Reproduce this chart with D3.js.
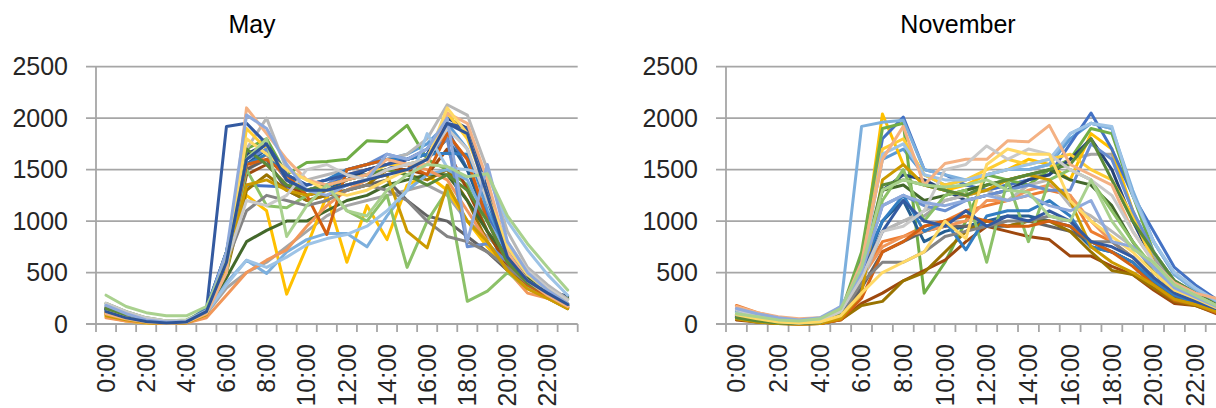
<!DOCTYPE html>
<html>
<head>
<meta charset="utf-8">
<script src="https://cdn.jsdelivr.net/npm/d3@7"></script>
<style>
  html, body { margin: 0; padding: 0; background: #fff; }
  svg { display: block; font-family: "Liberation Sans", Arial, sans-serif; }
</style>
</head>
<body>
<svg id="chart" width="1216" height="408"></svg>
<script>
// hourly categories and y ticks
const hours = d3.range(24).map(h => `${h}:00`);
const yTicks = [0, 500, 1000, 1500, 2000, 2500];

// Excel default series colours, in series order
const seriesColors = [
  "#5B9BD5","#ED7D31","#A5A5A5","#FFC000","#4472C4","#70AD47",
  "#255E91","#9E480E","#636363","#997300","#264478","#43682B",
  "#7CAFDD","#F1975A","#B7B7B7","#FFCD33","#698ED0","#8CC168",
  "#327DC2","#D26012","#848484","#CC9A00","#335AA1","#5A8A39",
  "#9DC3E6","#F4B183","#C9C9C9","#FFD966","#8FAADC","#A9D18E",
  "#2F5597"
];

// May: one row per day, 24 hourly values
const maySeries = [
  [150,80,30,15,30,120,600,1600,1750,1450,1350,1400,1500,1550,1600,1650,1750,1950,1700,1100,700,450,300,180],
  [120,60,25,10,20,110,550,1500,1650,1400,1300,1350,1450,1500,1550,1600,1650,1850,1600,1000,650,400,280,170],
  [200,120,60,30,30,100,350,500,600,750,900,1050,1150,1200,1250,1300,1350,1250,1000,850,650,450,320,200],
  [70,30,10,5,15,90,700,1250,1100,290,750,1250,600,1150,820,1350,1450,1300,1000,750,520,360,260,160],
  [130,70,25,10,20,130,650,1350,1340,1330,1300,1350,1450,1450,1500,1600,1650,1900,1500,1050,650,420,300,190],
  [110,60,20,10,20,120,700,1700,1800,1450,1570,1580,1600,1780,1770,1930,1600,1500,1350,900,560,380,290,240],
  [140,70,30,10,20,130,650,1550,1700,1400,1250,1300,1400,1450,1500,1550,1600,1800,1500,1000,600,400,290,180],
  [100,50,20,10,15,100,550,1450,1550,1350,1250,1300,1350,1400,1500,1500,1450,1700,1300,900,560,360,260,160],
  [150,80,30,15,25,120,600,1500,1600,1300,1200,1250,1300,1350,1400,1200,1050,1000,850,700,520,380,280,170],
  [90,40,15,5,15,90,500,1300,1450,1300,1200,1250,1300,1350,1500,1450,1400,1500,1200,800,520,350,250,150],
  [140,70,30,10,20,150,700,1650,1750,1450,1300,1350,1400,1500,1550,1600,1650,2000,1900,1300,700,450,320,270],
  [160,90,40,20,25,110,450,800,910,1000,1000,1100,1200,1250,1350,1400,1450,1450,1200,900,650,450,320,250],
  [180,100,50,20,20,100,400,620,490,700,820,880,880,750,1050,1300,1450,1500,1400,1000,700,480,320,190],
  [60,30,15,5,10,60,280,500,620,720,950,1150,1300,1400,1500,1550,1500,1400,1100,800,520,300,250,160],
  [170,100,40,20,30,150,650,1700,2000,1500,1400,1450,1500,1550,1600,1650,1800,2130,2030,1500,900,550,380,240],
  [100,50,20,10,20,110,600,1900,1700,1450,1300,1350,1400,1450,1550,1550,1600,2050,1800,1300,650,420,300,190],
  [130,70,25,10,20,130,650,1600,1700,1400,1300,1350,1500,1550,1650,1600,1650,1800,750,780,600,420,300,180],
  [200,120,60,30,40,130,500,1500,1150,1130,1250,1350,1100,1000,1250,550,1000,1300,220,320,500,350,280,200],
  [150,80,30,10,20,150,700,1550,1650,1450,1350,1400,1500,1550,1600,1600,1650,1660,1650,1200,650,420,300,190],
  [110,60,20,10,20,120,600,1550,1600,1450,1250,870,1500,1550,1600,1550,1450,1850,1600,1000,600,380,270,160],
  [160,90,40,15,25,130,600,1100,1250,1200,1150,1200,1300,1350,1300,1200,1000,850,800,700,550,400,300,200],
  [80,40,15,5,10,90,550,1350,1400,1300,1250,1300,1350,1400,1450,900,740,1350,1000,800,520,340,250,150],
  [140,70,25,10,15,130,1920,1950,1750,1450,1350,1400,1450,1500,1550,1600,1700,1950,1900,1300,700,420,300,180],
  [150,80,30,15,25,130,650,1700,1550,1350,1300,1350,1400,1450,1500,1450,1350,1450,1300,1000,600,400,290,180],
  [190,110,50,25,30,110,380,620,550,650,770,830,870,950,1100,1300,1850,1520,1500,1450,1000,720,480,280],
  [100,50,20,5,15,100,500,2100,1850,1600,1400,1350,1400,1450,1600,1550,1550,2050,1950,1400,700,420,280,170],
  [200,120,60,30,35,120,600,1200,1150,1250,1500,1550,1450,1400,1500,1550,1600,1900,1700,1200,800,520,350,230],
  [120,60,25,10,20,120,650,1800,1650,1500,1400,1300,1250,1300,1400,1500,1600,2100,1850,1250,750,480,330,200],
  [180,100,40,20,25,130,700,2030,1900,1550,1300,1250,1350,1400,1650,1600,1700,2000,800,1550,800,500,330,200],
  [280,170,110,80,80,170,600,1600,1800,850,1150,1350,1100,1050,1300,1450,1550,1530,1430,1460,1050,780,550,330],
  [120,60,25,10,20,120,600,1600,1750,1400,1300,1300,1350,1400,1450,1500,1600,1950,1850,1250,650,420,300,190]
];

// November: one row per day, 24 hourly values
const novSeries = [
  [100,60,30,20,30,120,600,1600,1700,1450,1350,1400,1450,1500,1500,1550,1800,1950,1900,1250,800,480,330,220],
  [180,110,60,40,40,100,450,800,850,950,1000,1100,1150,1200,1250,1300,1250,900,800,650,450,280,220,130],
  [80,40,15,5,20,100,450,900,1000,1050,1200,1250,1300,1350,1400,1500,1600,1650,1650,1100,650,380,270,170],
  [60,30,10,5,15,80,600,2040,1550,1350,1300,1350,1450,1500,1600,1550,1400,1850,1700,1100,600,350,250,160],
  [70,40,15,5,15,100,650,1800,2010,1500,1450,1350,1300,1350,1400,1450,1750,2050,1700,1250,900,550,380,240],
  [60,30,10,5,20,110,700,1900,1950,300,600,1000,1450,1400,1350,1500,1600,1900,1850,1250,700,420,300,180],
  [50,25,10,5,10,80,500,1000,1200,800,900,950,1000,1050,1050,1000,950,750,700,600,400,250,200,120],
  [40,20,5,0,5,40,200,300,420,520,620,800,950,900,850,820,660,660,560,480,330,200,180,100],
  [60,30,10,5,10,70,350,700,800,900,950,950,950,950,1000,950,900,800,700,600,400,260,200,120],
  [50,20,5,0,5,40,180,220,420,500,700,900,1000,950,1000,1000,900,700,520,480,350,220,180,110],
  [90,50,20,10,20,110,550,1300,1450,1400,1300,1200,1250,1300,1400,1450,1600,1800,1500,1000,600,400,280,170],
  [70,40,15,5,15,90,550,1300,1350,1200,1250,1300,1350,1400,1450,1500,1400,1350,1150,800,500,330,250,150],
  [130,70,30,15,30,170,1920,1960,1980,1500,1450,1400,1450,1500,1500,1550,1850,1950,1900,1300,800,480,330,220],
  [90,50,20,5,15,90,450,750,850,900,950,1000,1200,1200,1300,1350,1250,1000,800,650,450,300,230,150],
  [150,90,40,20,30,130,400,900,1000,1100,1200,1250,1300,1200,1350,1400,1150,1050,900,750,550,350,250,170],
  [70,35,10,5,15,90,550,1700,1800,1450,1350,1400,1500,1600,1550,1600,1650,1500,1400,1050,600,380,270,170],
  [120,70,30,15,30,140,500,1150,1250,1150,1100,1200,1250,1300,1350,1300,1300,1750,1600,1100,700,420,300,190],
  [110,60,25,10,20,120,500,1200,1500,1000,1250,1300,600,1400,800,1400,1500,1400,1100,800,550,350,260,170],
  [100,60,25,10,25,120,550,1000,1250,900,1000,720,1050,1100,1100,1200,1050,750,700,600,420,280,210,140],
  [60,30,10,0,5,40,250,700,800,950,1000,1050,1000,950,950,1000,950,800,700,560,380,230,190,110],
  [80,40,15,5,15,80,400,600,600,700,850,900,950,1000,1000,1050,1000,800,800,650,450,300,230,150],
  [50,20,5,0,5,50,300,1400,1550,1350,1300,1250,1300,1400,1450,1400,1200,750,600,500,380,240,190,120],
  [80,40,15,5,15,100,500,900,1200,1000,950,1100,950,1050,1000,1100,1000,800,750,650,450,300,220,150],
  [60,30,10,5,15,100,550,1350,1400,1350,1300,1250,1350,1400,1450,1500,1550,1800,1400,1000,700,420,300,190],
  [110,60,25,10,30,150,500,1650,1750,1450,1400,1400,1450,1500,1550,1600,1850,1950,1920,1250,800,500,350,230],
  [170,110,70,50,60,130,600,1600,1920,1350,1560,1600,1600,1780,1770,1930,1550,1450,1350,900,600,400,300,250],
  [140,80,35,20,30,120,450,900,950,1100,1500,1550,1730,1600,1700,1650,1500,1400,1250,900,600,380,280,180],
  [90,50,20,10,20,80,300,500,600,700,1000,830,1550,1700,1650,1650,1200,1000,850,700,500,330,250,160],
  [150,100,60,40,60,170,500,1150,1250,1180,1150,1200,1250,1200,1250,1150,1100,1200,800,750,550,350,260,170],
  [100,70,40,30,50,150,550,1300,1400,1350,1330,1350,1400,1300,1280,1050,1000,1400,1000,730,600,380,280,180]
];

const svg = d3.select('#chart');

const panels = [
  { title: 'May', series: maySeries, left: 96, width: 481.7, titleX: 252 },
  { title: 'November', series: novSeries, left: 726, width: 500.6, titleX: 958 }
];

const plotTop = 66.7, plotBottom = 324;

panels.forEach(p => {
  const g = svg.append('g');

  const x = d3.scaleBand().domain(hours).range([p.left, p.left + p.width]).padding(0);
  const y = d3.scaleLinear().domain([0, 2500]).range([plotBottom, plotTop]);
  const cx = h => x(h) + x.bandwidth() / 2;

  // title
  g.append('text')
    .attr('x', p.titleX).attr('y', 33)
    .attr('text-anchor', 'middle')
    .attr('font-size', 25)
    .attr('fill', '#000')
    .text(p.title);

  // horizontal gridlines (with outside tick stubs)
  g.selectAll('.grid')
    .data(yTicks)
    .join('line')
    .attr('x1', p.left - 10).attr('x2', p.left + p.width)
    .attr('y1', d => y(d)).attr('y2', d => y(d))
    .attr('stroke', '#a6a6a6').attr('stroke-width', 1.8);

  // y labels
  const yAxis = g.append('g')
    .attr('transform', `translate(${p.left},0)`)
    .call(d3.axisLeft(y).tickValues(yTicks).tickFormat(d3.format('d')).tickSize(0).tickPadding(28));
  yAxis.select('.domain').remove();
  yAxis.selectAll('text')
    .attr('font-size', 25)
    .attr('font-family', '"Liberation Sans", Arial, sans-serif')
    .attr('fill', '#262626');

  // vertical axis line
  g.append('line')
    .attr('x1', p.left).attr('x2', p.left)
    .attr('y1', plotTop).attr('y2', plotBottom)
    .attr('stroke', '#a6a6a6').attr('stroke-width', 1.8);

  // category boundary ticks
  const edges = hours.map(h => x(h)).concat([p.left + p.width]);
  g.selectAll('.xtick')
    .data(edges)
    .join('line')
    .attr('x1', d => d).attr('x2', d => d)
    .attr('y1', plotBottom).attr('y2', plotBottom + 8)
    .attr('stroke', '#a6a6a6').attr('stroke-width', 1.8);

  // x labels every two hours, rotated
  g.selectAll('.xlabel')
    .data(hours.filter((h, i) => i % 2 === 0))
    .join('text')
    .attr('transform', d => `translate(${cx(d)},344) rotate(-90)`)
    .attr('text-anchor', 'end')
    .attr('dy', '0.35em')
    .attr('font-size', 25)
    .attr('fill', '#262626')
    .text(d => d);

  // series lines
  const line = d3.line()
    .x((v, i) => cx(hours[i]))
    .y(v => y(v));

  g.selectAll('.series')
    .data(p.series)
    .join('path')
    .attr('d', d => line(d))
    .attr('fill', 'none')
    .attr('stroke', (d, i) => seriesColors[i])
    .attr('stroke-width', 3)
    .attr('stroke-linejoin', 'round')
    .attr('stroke-linecap', 'round');
});
</script>
</body>
</html>
